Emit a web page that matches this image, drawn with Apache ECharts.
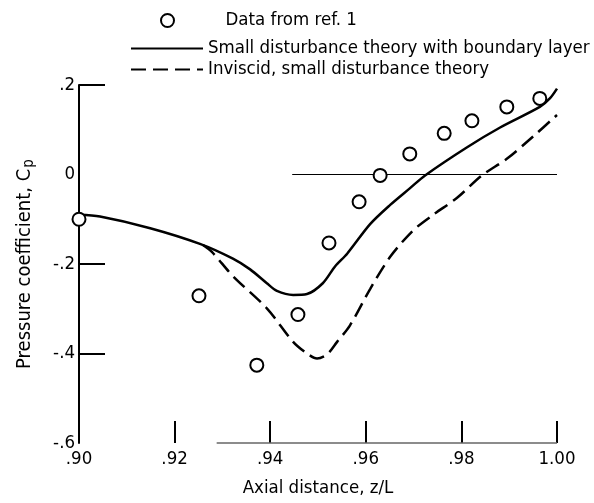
<!DOCTYPE html>
<html>
<head>
<meta charset="UTF-8"/>
<title>Pressure coefficient</title>
<script src="https://cdn.jsdelivr.net/npm/echarts@6/dist/echarts.min.js"></script>
<style>
  html, body { margin: 0; padding: 0; background: #fff; }
  #main { width: 594px; height: 503px; }
</style>
</head>
<body>
<div id="main"></div>
<script type="text/javascript">
// data
var refZ  = [0.900, 0.9251, 0.9372, 0.9458, 0.9523, 0.9586, 0.9630, 0.9692, 0.9764, 0.9822, 0.9895, 0.9964];
var refCp = [-0.100, -0.271, -0.426, -0.313, -0.153, -0.061, -0.002, 0.046, 0.092, 0.120, 0.151, 0.170];

var blZ  = [0.900, 0.9044, 0.9149, 0.9253, 0.9322, 0.9358, 0.9393, 0.9414, 0.9448, 0.9477, 0.9510, 0.9536,
            0.9561, 0.9609, 0.9651, 0.9692, 0.9724, 0.9812, 0.9881, 0.9964, 0.9985, 1.000];
var blCp = [-0.090, -0.094, -0.120, -0.155, -0.188, -0.212, -0.243, -0.260, -0.269, -0.267, -0.243, -0.205,
            -0.177, -0.111, -0.068, -0.031, -0.002, 0.061, 0.105, 0.151, 0.170, 0.192];

var invZ  = [0.9260, 0.9278, 0.9322, 0.9393, 0.9448, 0.9477, 0.9498, 0.9519, 0.9540, 0.9567, 0.9609,
             0.9651, 0.9699, 0.9741, 0.9791, 0.9843, 0.9895, 0.9950, 1.000];
var invCp = [-0.158, -0.173, -0.227, -0.299, -0.374, -0.400, -0.411, -0.402, -0.374, -0.337, -0.256,
             -0.184, -0.125, -0.090, -0.052, -0.002, 0.035, 0.085, 0.133];

var xTicks = [0.92, 0.94, 0.96, 0.98, 1.00];
var yTicks = [0.2, -0.2, -0.4];
var zeroLineFrom = 0.9446;   // thin Cp = 0 reference line starts here
var baseLineFrom = 0.9288;   // bottom axis line starts here

var names = ['Data from ref. 1', 'Small disturbance theory with boundary layer', 'Inviscid, small disturbance theory'];

function zip(a, b) {
    var out = [];
    for (var i = 0; i < a.length; i++) out.push([a[i], b[i]]);
    return out;
}

var font = "'DejaVu Sans Condensed', 'Liberation Sans', sans-serif";
var fs = 18.5;
var myChart = echarts.init(document.getElementById('main'), null, {renderer: 'canvas'});

var option = {
    backgroundColor: '#fff',
    animation: false,
    textStyle: {fontFamily: font, color: '#000'},
    legend: [
        {
            data: [names[0]],
            left: 160, top: 11,
            padding: 0,
            itemWidth: 14, itemHeight: 13,
            textStyle: {fontFamily: font, fontSize: fs, color: '#000', padding: [0, 0, 0, 46]}
        },
        {
            data: [names[1], names[2]],
            orient: 'vertical',
            left: 130, top: 39,
            padding: 0,
            itemWidth: 72, itemHeight: 14,
            itemGap: 2,
            itemStyle: {opacity: 0},
            textStyle: {fontFamily: font, fontSize: fs, color: '#000', lineHeight: 19}
        }
    ],
    grid: {left: 79, right: 37, top: 85, bottom: 53},
    xAxis: {
        type: 'value',
        min: 0.90, max: 1.00, interval: 0.02,
        splitLine: {show: false},
        axisLine: {show: false, onZero: false},
        axisTick: {
            show: true, inside: true, length: 22,
            customValues: xTicks,
            lineStyle: {color: '#000', width: 2}
        },
        axisLabel: {
            fontFamily: font, fontSize: fs, color: '#000', margin: 7,
            formatter: function (v) {
                if (Math.abs(v - 1) < 1e-6) return '1.00';
                return v.toFixed(2).replace('0.', '.');
            }
        },
        name: 'Axial distance, z/L',
        nameLocation: 'middle',
        nameGap: 36,
        nameTextStyle: {fontFamily: font, fontSize: fs, color: '#000'}
    },
    yAxis: {
        type: 'value',
        min: -0.6, max: 0.2, interval: 0.2,
        splitLine: {show: false},
        axisLine: {show: true, lineStyle: {color: '#000', width: 2}},
        axisTick: {
            show: true, inside: true, length: 26,
            customValues: yTicks,
            lineStyle: {color: '#000', width: 2}
        },
        axisLabel: {
            fontFamily: font, fontSize: fs, color: '#000', margin: 4,
            formatter: function (v) {
                if (Math.abs(v) < 1e-6) return '0';
                return v.toFixed(1).replace('0.', '.');
            }
        },
        name: 'Pressure coefficient, C{p|p}',
        nameLocation: 'middle',
        nameRotate: 90,
        nameGap: 42,
        nameTextStyle: {
            fontFamily: font, fontSize: 20, color: '#000',
            rich: {p: {fontFamily: font, fontSize: 15, color: '#000', padding: [10, 0, 0, 1]}}
        }
    },
    series: [
        {
            name: names[0],
            type: 'scatter',
            data: zip(refZ, refCp),
            symbol: 'emptyCircle',
            symbolSize: 13,
            itemStyle: {color: '#000', borderColor: '#000', borderWidth: 2, opacity: 1},
            z: 5
        },
        {
            name: names[1],
            type: 'line',
            data: zip(blZ, blCp),
            smooth: 0.3,
            showSymbol: false,
            symbol: 'none',
            lineStyle: {color: '#000', width: 2.5},
            itemStyle: {color: '#000'},
            markLine: {
                silent: true,
                symbol: 'none',
                label: {show: false},
                data: [
                    [{coord: [zeroLineFrom, 0], lineStyle: {color: '#000', width: 1, type: 'solid'}},
                     {coord: [1.0, 0]}],
                    [{coord: [baseLineFrom, -0.6], lineStyle: {color: '#666', width: 1.5, type: 'solid'}},
                     {coord: [1.0, -0.6]}]
                ]
            }
        },
        {
            name: names[2],
            type: 'line',
            data: zip(invZ, invCp),
            smooth: 0.3,
            showSymbol: false,
            symbol: 'none',
            lineStyle: {color: '#000', width: 2.5, type: [15, 7]},
            itemStyle: {color: '#000'}
        }
    ]
};

myChart.setOption(option);
</script>
</body>
</html>
